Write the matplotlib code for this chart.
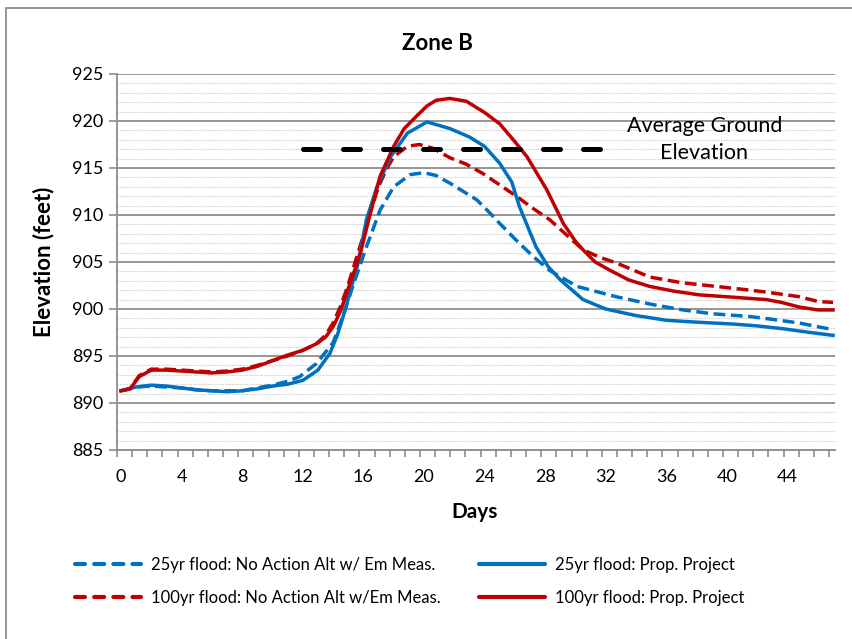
import matplotlib
matplotlib.use("Agg")
import matplotlib.pyplot as plt
from matplotlib.patches import Rectangle
from matplotlib.lines import Line2D

plt.rcParams["font.family"] = ["Lato", "DejaVu Sans"]

# Data (days, elevation in feet)
days_25_noaction = [0, 1, 2, 3, 4, 5, 6, 7, 8, 9, 10, 11, 11.8, 12.9, 14.0, 14.6, 15.3, 16.2,
                    17.1, 18.0, 19.1, 20.0, 20.8, 21.7, 22.6, 23.5, 24.3, 25.0, 26.1, 27.2,
                    28.3, 30.1, 32.7, 35, 37.1, 39, 41.5, 43, 44.8, 47]
elev_25_noaction = [891.3, 891.7, 891.8, 891.7, 891.6, 891.4, 891.3, 891.3, 891.3, 891.6, 891.9,
                    892.3, 892.8, 894.2, 896.4, 899.0, 902.4, 906.6, 910.5, 913.0, 914.3, 914.5,
                    914.2, 913.4, 912.5, 911.6, 910.3, 909.1, 907.3, 905.6, 904.1, 902.4, 901.3,
                    900.5, 899.9, 899.5, 899.2, 898.9, 898.5, 897.8]

days_25_project = [0, 1, 2, 3, 4, 5, 6, 7, 8, 9, 10, 11, 12, 13, 13.8, 14.3, 14.8, 15.2, 15.6,
                   16.2, 16.9, 17.8, 18.9, 20.2, 21.7, 23.0, 24.0, 25.0, 25.8, 26.3, 27.4, 28.2,
                   29.0, 30.5, 32.0, 34, 36, 38, 40.4, 42, 43.7, 45.5, 47]
elev_25_project = [891.3, 891.7, 891.9, 891.8, 891.6, 891.4, 891.3, 891.2, 891.3, 891.5, 891.8,
                   892.0, 892.4, 893.5, 895.3, 897.3, 899.9, 902.3, 904.5, 909.5, 913.0, 916.2,
                   918.7, 919.9, 919.2, 918.3, 917.3, 915.5, 913.5, 910.9, 906.6, 904.5, 903.1,
                   901.0, 900.0, 899.3, 898.8, 898.6, 898.4, 898.2, 897.9, 897.5, 897.2]

days_100_noaction = [0, 0.6, 1.2, 2, 3, 4, 5, 6, 7, 8, 9, 10, 11, 12, 12.9, 13.5, 14.0, 14.5,
                     15.0, 15.5, 16.0, 16.5, 17.0, 17.5, 18.0, 18.9, 19.7, 20.6, 21.7, 22.8,
                     23.9, 25.0, 26.1, 27.2, 28.3, 29.4, 30.5, 31.6, 32.7, 34.9, 37, 39.3, 41,
                     42.6, 44.8, 46, 47]
elev_100_noaction = [891.3, 891.5, 892.9, 893.6, 893.6, 893.5, 893.4, 893.3, 893.4, 893.6, 894.0,
                     894.5, 895.0, 895.6, 896.3, 897.2, 898.5, 900.3, 902.6, 905.2, 907.8, 910.5,
                     913.0, 914.8, 916.2, 917.3, 917.5, 917.1, 916.1, 915.4, 914.4, 913.2, 912.0,
                     910.7, 909.5, 907.9, 906.3, 905.5, 904.9, 903.4, 902.8, 902.4, 902.1, 901.8,
                     901.3, 900.8, 900.7]

days_100_project = [0, 0.6, 1.2, 2, 3, 4, 5, 6, 7, 8, 9, 10, 11, 12, 12.9, 13.5, 14.0, 14.5,
                    14.9, 15.4, 15.8, 16.4, 17.1, 18.0, 18.7, 19.5, 20.2, 20.8, 21.7, 22.8,
                    24.0, 25.0, 26.0, 26.8, 28.1, 29.2, 30.0, 30.5, 31.3, 32.3, 33.5, 34.9,
                    36.5, 38.2, 40, 42.6, 43.6, 44.8, 46, 47]
elev_100_project = [891.3, 891.5, 892.8, 893.5, 893.5, 893.4, 893.3, 893.2, 893.3, 893.5, 893.9,
                    894.5, 895.1, 895.6, 896.3, 897.0, 898.1, 899.8, 901.7, 904.0, 905.9, 909.8,
                    914.1, 917.3, 919.2, 920.5, 921.6, 922.2, 922.4, 922.1, 920.9, 919.7, 917.8,
                    916.2, 912.7, 909.1, 907.2, 906.3, 905.0, 904.1, 903.1, 902.4, 901.9, 901.5,
                    901.3, 901.0, 900.7, 900.2, 899.9, 899.9]

ground_days = [12, 31.8]
ground_elev = [917, 917]

labels = ["25yr flood: No Action Alt w/ Em Meas.",
          "100yr flood: No Action Alt w/Em Meas.",
          "25yr flood: Prop. Project",
          "100yr flood: Prop. Project"]
x_ticks = list(range(0, 45, 4))
y_ticks = list(range(885, 926, 5))

BLUE = "#0070C0"
RED = "#C00000"
GRID = "#8c8c8c"

fig = plt.figure(figsize=(8.53, 6.39), dpi=100)
ax = fig.add_axes([117 / 853, 1 - 450 / 639, 718 / 853, 376 / 639])

dash = (3.4, 1.6)
ax.plot(days_25_noaction, elev_25_noaction, color=BLUE, lw=2.5, dashes=dash, zorder=3)
ax.plot(days_100_noaction, elev_100_noaction, color=RED, lw=2.5, dashes=dash, zorder=3)
ax.plot(days_25_project, elev_25_project, color=BLUE, lw=2.5, zorder=4)
ax.plot(days_100_project, elev_100_project, color=RED, lw=2.5, zorder=4)
ax.plot(ground_days, ground_elev, color="black", lw=3.6, dashes=(3.4, 4.6),
        dash_capstyle="round", zorder=5)

ax.text(38.5, 918.0, "Average Ground\nElevation", ha="center", va="center",
        fontsize=15.5, linespacing=1.45)

ax.set_xlim(-0.26, 47.13)
ax.set_ylim(885, 925)
ax.set_xticks(x_ticks)
ax.xaxis.set_minor_locator(plt.MultipleLocator(1, offset=-0.26))
ax.set_yticks(y_ticks)
ax.yaxis.set_minor_locator(plt.MultipleLocator(1))
ax.tick_params(axis="x", which="major", length=0, labelsize=13, pad=14)
ax.tick_params(axis="x", which="minor", length=5, width=1.2, color=GRID, direction="out")
ax.tick_params(axis="y", which="major", length=6, width=1.2, color=GRID, labelsize=13, pad=4)
ax.tick_params(axis="y", which="minor", length=0)

ax.grid(axis="y", which="major", color=GRID, lw=1.3)
ax.grid(axis="y", which="minor", color="#c4c4c4", lw=0.8, ls=(0, (1, 1.2)))
ax.set_axisbelow(True)
for side in ["top", "right"]:
    ax.spines[side].set_visible(False)
for side in ["left", "bottom"]:
    ax.spines[side].set_color(GRID)
    ax.spines[side].set_linewidth(1.3)

fig.text(437 / 853, 1 - 43 / 639, "Zone B", ha="center", va="center",
         fontsize=16, fontweight="bold")
fig.text(44 / 853, 1 - 262 / 639, "Elevation (feet)", ha="center", va="center",
         rotation=90, fontsize=16, fontweight="bold")
fig.text(475 / 853, 1 - 512 / 639, "Days", ha="center", va="center",
         fontsize=15, fontweight="bold")

handles = [Line2D([], [], color=BLUE, lw=3, dashes=(2.4, 2.2), dash_capstyle="round"),
           Line2D([], [], color=RED, lw=3, dashes=(2.4, 2.2), dash_capstyle="round"),
           Line2D([], [], color=BLUE, lw=3, solid_capstyle="round"),
           Line2D([], [], color=RED, lw=3, solid_capstyle="round")]
fig.legend(handles, labels, ncol=2, loc="upper left",
           bbox_to_anchor=(75 / 853, 1 - 557 / 639), frameon=False, fontsize=12,
           borderpad=0, borderaxespad=0, handlelength=3.95, handletextpad=0.6,
           columnspacing=2.3, labelspacing=1.0)

# outer chart-area border (only the left and top edges fall inside the picture)
fig.add_artist(Rectangle((6 / 853, -0.1), 1.5, 1.1 - 8 / 639, transform=fig.transFigure,
                         fill=False, edgecolor="#8c8c8c", lw=1.3))

fig.savefig("out.png", dpi=100)
